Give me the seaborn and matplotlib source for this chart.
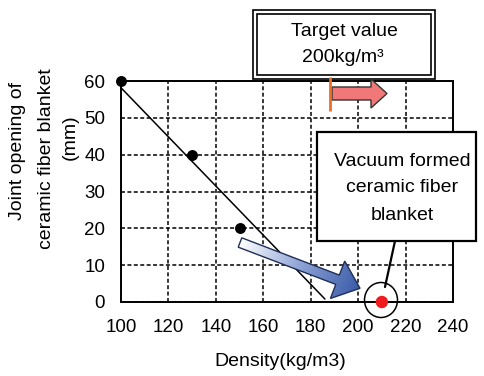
import numpy as np
import matplotlib
matplotlib.use("Agg")
import matplotlib.pyplot as plt
import seaborn as sns
import pandas as pd
from matplotlib.patches import Rectangle, FancyArrow, Ellipse
from matplotlib.colors import LinearSegmentedColormap

# ---- data ----
density = [100, 130, 150]
opening = [60, 40, 20]
vac_density = [210]
vac_opening = [0]
trend_density = [96.5, 186]
trend_opening = [60.5, 0.8]
x_ticks = [100, 120, 140, 160, 180, 200, 220, 240]
y_ticks = [0, 10, 20, 30, 40, 50, 60]
x_label = "Density(kg/m3)"
y_label_lines = ["Joint opening of", "ceramic fiber blanket", "(mm)"]
target_lines = ["Target value", "200kg/m\u00b3"]
vac_lines = ["Vacuum formed", "ceramic fiber", "blanket"]

sns.set_theme(style="white")
FONT = ["Liberation Sans", "DejaVu Sans"]
plt.rcParams["font.family"] = FONT
plt.rcParams["text.color"] = "black"
FS = 13.5
FT = 14

W, H = 484, 376
fig = plt.figure(figsize=(W / 100, H / 100), dpi=100)
fig.patch.set_facecolor("white")

ax = fig.add_axes([121 / W, 1 - 302 / H, (453 - 121) / W, (302 - 81) / H])
ax.set_facecolor("white")

df = pd.DataFrame({"d": density, "o": opening})
df_v = pd.DataFrame({"d": vac_density, "o": vac_opening})
df_t = pd.DataFrame({"d": trend_density, "o": trend_opening})

sns.lineplot(data=df_t, x="d", y="o", ax=ax, color="black", lw=1.1, zorder=3)
sns.scatterplot(data=df, x="d", y="o", ax=ax, color="black", s=62, edgecolor="black",
                linewidth=0, zorder=5, clip_on=False)
sns.scatterplot(data=df_v, x="d", y="o", ax=ax, color="#ee1c1c", s=80, edgecolor="none",
                linewidth=0, zorder=6, clip_on=False)

ax.set_xlim(100, 240)
ax.set_ylim(0, 60)
ax.set_xticks(x_ticks)
ax.set_yticks(y_ticks)
ax.set_xlabel("")
ax.set_ylabel("")
ax.grid(True, color="black", linestyle=(0, (2.6, 1.6)), lw=1.1)
for s in ax.spines.values():
    s.set_color("black")
    s.set_linewidth(1.4)
ax.tick_params(axis="both", direction="in", length=4, width=1, colors="black",
               labelsize=FS, labelcolor="black")
ax.tick_params(axis="x", pad=12)
ax.tick_params(axis="y", pad=11.5)

# ---- overlay in pixel coordinates ----
ov = fig.add_axes([0, 0, 1, 1])
ov.set_xlim(0, W)
ov.set_ylim(H, 0)
ov.axis("off")
ov.patch.set_alpha(0)

# axis labels
fig.text(280 / W, 1 - 362 / H, x_label, ha="center", va="center", fontsize=FT, color="black")
for txt, px, py in zip(y_label_lines, [18, 47, 70], [151, 159, 137]):
    fig.text(px / W, 1 - py / H, txt, ha="center", va="center", rotation=90,
             fontsize=FT, color="black")

# target value box (double border)
ov.add_patch(Rectangle((253, 10), 182, 69, facecolor="white", edgecolor="black", lw=1.2, zorder=10))
ov.add_patch(Rectangle((257, 14), 174, 61, facecolor="none", edgecolor="black", lw=1.2, zorder=11))
for txt, px, py in zip(target_lines, [344, 343], [32, 58]):
    ov.text(px, py, txt, ha="center", va="center", fontsize=FT, color="black", zorder=12)

# orange target line and pink arrow
ov.plot([330, 330], [77, 111], color="#ea6e23", lw=2.0, zorder=13, solid_capstyle="butt")
ov.add_patch(FancyArrow(332, 93.5, 55, 0, width=13, head_width=29, head_length=16,
                        length_includes_head=True, facecolor="#f07878", edgecolor="#333333",
                        lw=1.0, zorder=12))

# vacuum formed box
ov.add_patch(Rectangle((317, 132), 159, 109, facecolor="white", edgecolor="black", lw=1.6, zorder=10))
for txt, py in zip(vac_lines, [162, 188, 216]):
    ov.text(402, py, txt, ha="center", va="center", fontsize=FT, color="black", zorder=12)
ov.plot([395, 385], [241, 287], color="black", lw=1.6, zorder=11)
ov.add_patch(Ellipse((381, 300), 33, 35, facecolor="none", edgecolor="black", lw=1.1, zorder=11))

# gradient blue arrow
tail = np.array([240.0, 242.5])
tip = np.array([360.0, 288.3])
arr = FancyArrow(tail[0], tail[1], tip[0] - tail[0], tip[1] - tail[1], width=10,
                 head_width=40, head_length=24, length_includes_head=True,
                 facecolor="none", edgecolor="#1f2f55", lw=1.0, zorder=9)
ov.add_patch(arr)
x0, x1, y0, y1 = 225, 370, 225, 310
xs = np.linspace(x0, x1, 300)
ys = np.linspace(y0, y1, 200)
XX, YY = np.meshgrid(xs, ys)
d = tip - tail
t = ((XX - tail[0]) * d[0] + (YY - tail[1]) * d[1]) / (d @ d)
t = np.clip(t, 0, 1)
cmap = LinearSegmentedColormap.from_list("g", ["#ffffff", "#8ea3d6", "#3a5ba9"])
im = ov.imshow(t, cmap=cmap, extent=(x0, x1, y1, y0), origin="upper", aspect="auto",
               zorder=8, vmin=0, vmax=1)
im.set_clip_path(arr)
ov.set_xlim(0, W)
ov.set_ylim(H, 0)

fig.savefig("out.png", dpi=100, facecolor="white")
